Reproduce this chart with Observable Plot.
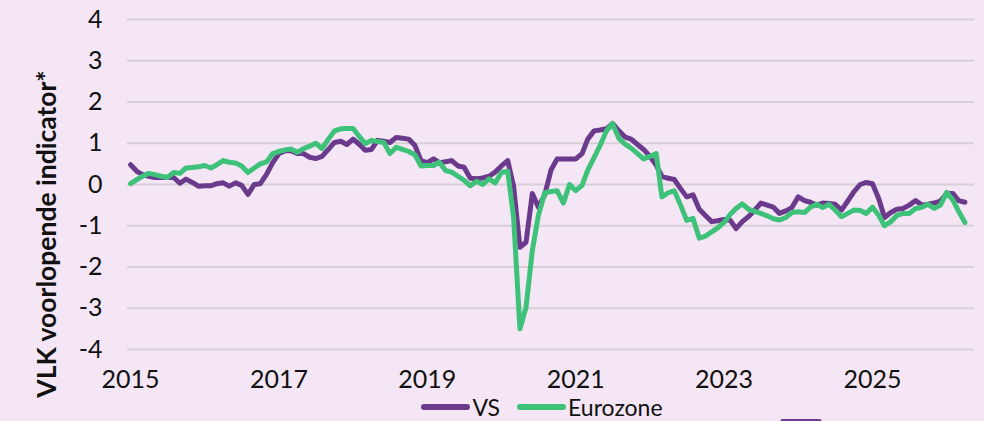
<!DOCTYPE html>
<html>
<head>
<meta charset="utf-8">
<script src="https://cdn.jsdelivr.net/npm/d3@7"></script>
<script src="https://cdn.jsdelivr.net/npm/@observablehq/plot@0.6"></script>
<style>
  html, body { margin: 0; padding: 0; background: #f4e6f5; overflow: hidden; }
  #wrap { position: relative; width: 984px; height: 421px; font-family: Lato, "DejaVu Sans", sans-serif; }
  #ytitle { position: absolute; left: 46px; top: 234px; transform: translate(-50%, -50%) rotate(-90deg);
            white-space: nowrap; font-weight: bold; font-size: 26.5px; color: #111; }
  #legend { position: absolute; left: 0; top: 397px; width: 1101px; display: flex; justify-content: center;
            align-items: center; font-size: 23px; color: #111; line-height: 20px; }
  .item { display: flex; align-items: center; margin-right: 17px; }
  .sw { width: 49px; height: 6px; border-radius: 3px; margin-right: 2px; }
  #extra { position: absolute; left: 780px; top: 419px; width: 42px; height: 10px; border-radius: 3px; background: #6b3a8c; }
</style>
</head>
<body>
<div id="wrap">
  <div id="chart"></div>
  <div id="ytitle">VLK voorlopende indicator*</div>
  <div id="legend"></div>
  <div id="extra"></div>
</div>
<script>
const seriesNames = ["VS", "Eurozone"];
const seriesColors = ["#6b3a8c", "#3ec27a"];

// Monthly values from 2015-01 onward
const vs = [
  0.48, 0.32, 0.24, 0.2, 0.17, 0.17, 0.17, 0.17, 0.03, 0.13, 0.05, -0.04,
  -0.03, -0.03, 0.02, 0.04, -0.04, 0.04, -0.02, -0.24, 0.0, 0.02, 0.25, 0.53,
  0.75, 0.82, 0.82, 0.75, 0.75, 0.66, 0.63, 0.68, 0.85, 1.02, 1.05, 0.97,
  1.1, 0.97, 0.83, 0.85, 1.07, 1.05, 1.02, 1.14, 1.12, 1.1, 0.95, 0.58,
  0.53, 0.62, 0.53, 0.55, 0.58, 0.45, 0.42, 0.15, 0.14, 0.16, 0.2, 0.3,
  0.45, 0.58, -0.05, -1.52, -1.4, -0.22, -0.55, -0.25, 0.35, 0.62, 0.62, 0.62,
  0.62, 0.75, 1.1, 1.3, 1.32, 1.35, 1.48, 1.3, 1.15, 1.1, 0.97, 0.85,
  0.68, 0.47, 0.2, 0.15, 0.12, -0.1, -0.3, -0.25, -0.6, -0.75, -0.9, -0.88,
  -0.85, -0.87, -1.07, -0.9, -0.78, -0.62, -0.45, -0.5, -0.55, -0.7, -0.64, -0.56,
  -0.3, -0.39, -0.43, -0.5, -0.45, -0.46, -0.48, -0.62, -0.4, -0.18, 0.0, 0.05,
  0.02, -0.35, -0.8, -0.68, -0.6, -0.58, -0.5, -0.39, -0.5, -0.48, -0.45, -0.4,
  -0.22, -0.22, -0.39, -0.43
];
const eurozone = [
  0.02, 0.12, 0.2, 0.27, 0.24, 0.2, 0.17, 0.29, 0.27, 0.4, 0.41, 0.43,
  0.46, 0.4, 0.48, 0.58, 0.54, 0.52, 0.45, 0.29, 0.4, 0.5, 0.55, 0.75,
  0.8, 0.84, 0.86, 0.78, 0.87, 0.93, 1.0, 0.87, 1.1, 1.3, 1.35, 1.36,
  1.36, 1.16, 0.99, 1.07, 1.04, 1.02, 0.75, 0.9, 0.85, 0.8, 0.72, 0.45,
  0.46, 0.46, 0.54, 0.34, 0.3, 0.2, 0.1, -0.03, 0.08, 0.0, 0.14, 0.04,
  0.29, 0.32, -0.8, -3.5, -2.98, -1.6, -0.75, -0.2, -0.17, -0.15, -0.45, 0.0,
  -0.15, -0.02, 0.35, 0.65, 0.95, 1.3, 1.48, 1.12, 0.98, 0.88, 0.75, 0.62,
  0.68, 0.75, -0.3, -0.2, -0.15, -0.5, -0.87, -0.82, -1.3, -1.25, -1.15, -1.05,
  -0.92, -0.72, -0.58, -0.47, -0.6, -0.65, -0.7, -0.76, -0.83, -0.86, -0.8, -0.68,
  -0.66, -0.68, -0.55, -0.48, -0.56, -0.48, -0.62, -0.78, -0.7, -0.62, -0.63, -0.7,
  -0.55, -0.75, -1.0, -0.9, -0.75, -0.7, -0.7, -0.58, -0.55, -0.48, -0.58, -0.5,
  -0.19, -0.38, -0.65, -0.92
];
const yTicks = [-4, -3, -2, -1, 0, 1, 2, 3, 4];
const xTickYears = [2015, 2017, 2019, 2021, 2023, 2025];

const monthDate = i => new Date(Date.UTC(2015, i, 1));
const rows = [];
[vs, eurozone].forEach((arr, s) => arr.forEach((v, i) => rows.push({date: monthDate(i), value: v, series: seriesNames[s]})));
const xTickDates = xTickYears.map(y => new Date(Date.UTC(y, 0, 1)));

const chart = Plot.plot({
  width: 984,
  height: 400,
  marginTop: 19,
  marginBottom: 51,
  marginLeft: 127,
  marginRight: 10,
  style: {fontFamily: "Lato, sans-serif", fontSize: "25px", background: "transparent", color: "#111"},
  x: {
    type: "utc",
    domain: [new Date(Date.UTC(2014, 11, 17)), new Date(Date.UTC(2026, 4, 18))],
    label: null
  },
  y: {
    domain: [-4, 4],
    label: null
  },
  color: {domain: seriesNames, range: seriesColors},
  marks: [
    Plot.gridY(yTicks, {stroke: "#d6d0d6", strokeOpacity: 1, strokeWidth: 2}),
    Plot.axisX({ticks: xTickDates, tickFormat: d => String(d.getUTCFullYear()), tickSize: 0, tickPadding: 21, label: null}),
    Plot.axisY({ticks: yTicks, tickFormat: d => String(d), tickSize: 0, tickPadding: 25, label: null}),
    ...seriesNames.map(name => Plot.line(rows.filter(r => r.series === name), {
      x: "date", y: "value", stroke: "series", strokeWidth: 5,
      strokeLinejoin: "round", strokeLinecap: "round"
    }))
  ]
});
document.getElementById("chart").appendChild(chart);

const legend = document.getElementById("legend");
seriesNames.forEach((n, i) => {
  const item = document.createElement("div");
  item.className = "item";
  const sw = document.createElement("div");
  sw.className = "sw";
  sw.style.background = seriesColors[i];
  const t = document.createElement("span");
  t.textContent = n;
  item.appendChild(sw);
  item.appendChild(t);
  legend.appendChild(item);
});
</script>
</body>
</html>
